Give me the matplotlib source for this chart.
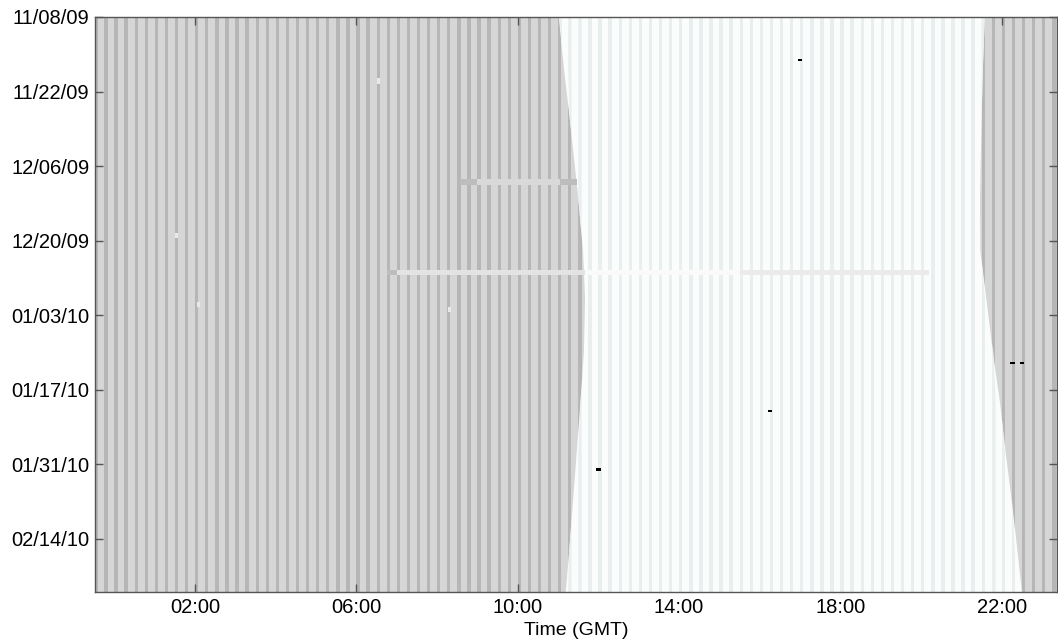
import numpy as np
import matplotlib
matplotlib.use("Agg")
import matplotlib.pyplot as plt
import matplotlib.dates as mdates
from matplotlib.patches import Polygon

plt.rcParams["font.family"] = ["Liberation Sans", "DejaVu Sans"]

# ============================
# Data
# ============================
START_DATE = "2009-11-08"
N_DAYS = 108
YTICK_DATES = ["2009-11-08", "2009-11-22", "2009-12-06", "2009-12-20",
               "2010-01-03", "2010-01-17", "2010-01-31", "2010-02-14"]
XTICK_HOURS = [2, 6, 10, 14, 18, 22]
XTICK_LABELS = ["02:00", "06:00", "10:00", "14:00", "18:00", "22:00"]

# sunrise / sunset boundary of the bright (day) region, hours GMT
SUN_DATES = ["2009-11-08", "2009-11-18", "2009-11-27", "2009-12-12",
             "2009-12-22", "2009-12-31", "2010-01-10", "2010-01-19",
             "2010-01-29", "2010-02-07", "2010-02-17", "2010-02-24"]
SUNRISE_H = [11.02, 11.15, 11.29, 11.50, 11.62, 11.67, 11.64, 11.56,
             11.46, 11.37, 11.27, 11.19]
SUNSET_H = [21.58, 21.53, 21.50, 21.46, 21.47, 21.62, 21.78, 21.95,
            22.10, 22.25, 22.40, 22.50]

# horizontal row artefacts (date, start hour, end hour, grey level)
ROW_DATES = ["2009-12-09", "2009-12-09", "2009-12-09",
             "2009-12-26", "2009-12-26", "2009-12-26", "2009-12-26"]
ROW_START = [8.57, 9.00, 11.05, 6.76, 7.00, 11.66, 15.50]
ROW_END = [9.00, 11.05, 11.47, 7.00, 11.66, 15.50, 20.20]
ROW_LEVEL = [0.74, 0.85, 0.74, 0.74, 0.89, 0.98, 0.92]

# isolated dark marks
DASH_DATES = ["2009-11-16", "2010-01-12", "2010-01-12", "2010-01-21", "2010-02-01"]
DASH_HOURS = [17.00, 22.27, 22.50, 16.25, 12.00]

# isolated light specks in the night region
SPECK_DATES = ["2009-11-20", "2009-12-19", "2010-01-02", "2010-01-01"]
SPECK_HOURS = [6.51, 1.50, 8.27, 2.05]

# recording bins: 5-minute bins, one dark bin every 15 minutes
BIN_H = 1.0 / 12
CYCLE_H = 0.25

NIGHT_LIGHT = "#d6d6d6"
NIGHT_DARK = "#b6b6b6"
DAY_LIGHT = "#fbfcfc"
DAY_DARK = "#e9eeee"


def dnum(s):
    return mdates.datestr2num(s)


def main():
    d0 = dnum(START_DATE)

    fig = plt.figure(figsize=(10.58, 6.41), dpi=100)
    ax = fig.add_axes([95 / 1058, 49 / 641, 962 / 1058, 575 / 641])
    ax.set_facecolor(NIGHT_LIGHT)

    starts = np.arange(-1.0, 24.0, CYCLE_H)

    # night stripes
    ax.bar(starts, N_DAYS + 2, bottom=d0 - 1, width=BIN_H, align="edge",
           color=NIGHT_DARK, linewidth=0, zorder=1)

    # daylight region
    sun_y = np.array([dnum(s) for s in SUN_DATES])
    rise = np.array(SUNRISE_H)
    sset = np.array(SUNSET_H)
    verts = list(zip(rise, sun_y)) + list(zip(sset[::-1], sun_y[::-1]))
    ax.add_patch(Polygon(verts, closed=True, facecolor=DAY_LIGHT,
                         edgecolor="none", linewidth=0, zorder=2))

    # day stripes: each dark bin limited to the daylight span
    for a in starts:
        x1 = np.maximum(a, rise)
        x2 = np.minimum(a + BIN_H, sset)
        ok = x1 < x2
        if ok.any():
            ax.fill_betweenx(sun_y, x1, x2, where=ok, interpolate=True,
                             color=DAY_DARK, linewidth=0, zorder=3)

    # row artefacts
    row_y = [dnum(s) for s in ROW_DATES]
    ax.barh(row_y, np.subtract(ROW_END, ROW_START), left=ROW_START, height=1.0,
            color=[plt.cm.gray(v) for v in ROW_LEVEL], linewidth=0, zorder=4)

    # light specks
    ax.barh([dnum(s) for s in SPECK_DATES], BIN_H, left=SPECK_HOURS, height=1.0,
            color="#e9e9e9", linewidth=0, zorder=4)

    # dark marks
    ax.barh([dnum(s) for s in DASH_DATES], 0.11, left=np.subtract(DASH_HOURS, 0.055),
            height=0.4, color="black", linewidth=0, zorder=5)

    ax.set_xlim(-0.48, 23.37)
    ax.set_ylim(d0 + N_DAYS, d0)

    ax.set_xticks(XTICK_HOURS)
    ax.set_xticklabels(XTICK_LABELS)
    ax.set_yticks([dnum(s) for s in YTICK_DATES])
    ax.yaxis.set_major_formatter(mdates.DateFormatter("%m/%d/%y"))

    ax.tick_params(direction="in", length=6, width=1, top=True, right=True,
                   labelsize=14.5, color="#555555", pad=4)
    for sp in ax.spines.values():
        sp.set_color("#555555")
        sp.set_linewidth(1)
        sp.set_zorder(10)

    ax.set_xlabel("Time (GMT)", fontsize=14, labelpad=4)

    fig.savefig("out.png", dpi=100, facecolor="white")
    plt.close(fig)


if __name__ == "__main__":
    main()
